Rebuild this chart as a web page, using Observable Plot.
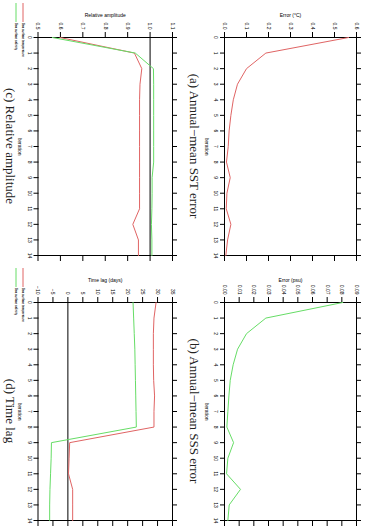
<!DOCTYPE html>
<html>
<head>
<meta charset="utf-8">
<script src="https://cdn.jsdelivr.net/npm/d3@7"></script>
<script src="https://cdn.jsdelivr.net/npm/@observablehq/plot@0.6"></script>
<style>
  html, body { margin: 0; padding: 0; background: #fff; overflow: hidden; }
  #fig { position: absolute; left: 0; top: 0; width: 530px; height: 368px; background: #fff;
         transform-origin: 0 0; transform: translate(368px, 0) rotate(90deg); }
  .panel { position: absolute; }
  .title { position: absolute; font-family: "Liberation Serif", "Times New Roman", serif; font-size: 13px;
           white-space: nowrap; transform: translate(-50%, -50%); color: #222; }
  .legend { position: absolute; font-family: "Liberation Sans", Arial, sans-serif; }
</style>
</head>
<body>
<div id="fig"></div>
<script>
// ---- data ----
const iterations = [0,1,2,3,4,5,6,7,8,9,10,11,12,13,14];
const sstError = [0.564,0.188,0.100,0.059,0.040,0.029,0.021,0.017,0.009,0.026,0.011,0.008,0.029,0.014,0.006];
const sssError = [0.0806,0.0282,0.0150,0.0089,0.0059,0.0039,0.0030,0.0023,0.0016,0.0062,0.0023,0.0014,0.0109,0.0032,0.0023];
const ampSST = [0.598,0.930,0.963,0.955,0.953,0.953,0.953,0.953,0.953,0.953,0.953,0.953,0.923,0.948,0.948];
const ampSSS = [0.564,0.934,1.015,1.016,1.016,1.016,1.016,1.016,1.016,1.009,1.009,1.008,1.006,1.008,1.008];
const lagSST = [29.5,28.8,28.6,28.6,28.6,28.7,29.0,28.8,28.8,0.6,0.4,0.2,1.6,1.6,1.6];
const lagSSS = [21.8,22.0,22.2,22.4,22.5,22.6,22.7,22.8,22.9,-5.5,-5.6,-5.8,-6.0,-6.1,-6.1];
const iterTicks = iterations;
const sstErrTicks = [0,0.1,0.2,0.3,0.4,0.5,0.6];
const sssErrTicks = [0,0.01,0.02,0.03,0.04,0.05,0.06,0.07,0.08,0.09];
const ampTicks = [0.5,0.6,0.7,0.8,0.9,1.0,1.1];
const lagTicks = [-10,-5,0,5,10,15,20,25,30,35];
const seriesNames = ["Sea surface temperature", "Sea surface salinity"];
const titles = ["(a) Annual\u2212mean SST error", "(b) Annual\u2212mean SSS error", "(c) Relative amplitude", "(d) Time lag"];

const RED = "#e06464", GREEN = "#66dd66";

function panel({series, domain, ticks, fmt, label, rule, mb}) {
  const marks = [
    Plot.frame({stroke: "black", strokeWidth: 1}),
  ];
  if (rule !== undefined) marks.push(Plot.ruleY([rule], {stroke: "black", strokeWidth: 1}));
  for (const s of series) {
    marks.push(Plot.line(iterations.map((it, i) => ({it, v: s.values[i]})), {x: "it", y: "v", stroke: s.color, strokeWidth: 1}));
  }
  marks.push(
    Plot.axisX({ticks: iterTicks, tickSize: 5, tickPadding: 1.5, tickFormat: d => String(d), label: "Iteration", labelAnchor: "center", labelOffset: 20, labelArrow: false}),
    Plot.axisX({anchor: "top", ticks: iterTicks, tickSize: 5, tickFormat: () => "", label: null}),
    Plot.axisY({ticks, tickSize: 5, tickPadding: 3, tickFormat: fmt, label, labelAnchor: "center", labelOffset: 24, labelArrow: false}),
    Plot.axisY({anchor: "right", ticks, tickSize: 5, tickFormat: () => "", label: null})
  );
  return Plot.plot({
    width: 265, height: 184,
    marginLeft: 37, marginRight: 10, marginTop: 11, marginBottom: mb,
    style: {fontFamily: "Liberation Sans, Arial, sans-serif", fontSize: "5px", background: "white", overflow: "visible"},
    x: {domain: [0, 14]},
    y: {domain},
    marks
  });
}

const fig = document.getElementById("fig");
function place(node, left, top) {
  const d = document.createElement("div");
  d.className = "panel"; d.style.left = left + "px"; d.style.top = top + "px";
  d.appendChild(node); fig.appendChild(d);
}
function addTitle(text, cx, cy) {
  const t = document.createElement("div");
  t.className = "title"; t.textContent = text;
  t.style.left = cx + "px"; t.style.top = cy + "px";
  fig.appendChild(t);
}
function addLegend(left, top) {
  const ns = "http://www.w3.org/2000/svg";
  const svg = document.createElementNS(ns, "svg");
  svg.setAttribute("width", 70); svg.setAttribute("height", 14);
  svg.setAttribute("class", "legend");
  svg.style.left = left + "px"; svg.style.top = top + "px";
  [[RED, seriesNames[0]], [GREEN, seriesNames[1]]].forEach(([c, name], i) => {
    const y = 3 + i * 7;
    const l = document.createElementNS(ns, "line");
    l.setAttribute("x1", 0); l.setAttribute("x2", 19); l.setAttribute("y1", y); l.setAttribute("y2", y);
    l.setAttribute("stroke", c); l.setAttribute("stroke-width", 1);
    svg.appendChild(l);
    const t = document.createElementNS(ns, "text");
    t.setAttribute("x", 20); t.setAttribute("y", y); t.setAttribute("dy", "0.35em");
    t.setAttribute("font-size", "2.9px"); t.setAttribute("font-weight", "bold");
    t.setAttribute("font-family", "Liberation Sans, Arial, sans-serif");
    t.textContent = name;
    svg.appendChild(t);
  });
  fig.appendChild(svg);
}

place(panel({series: [{values: sstError, color: RED}], domain: [0, 0.6], ticks: sstErrTicks, fmt: d3.format(".1f"), label: "Error (\u00b0C)", mb: 41}), 0, 0);
place(panel({series: [{values: sssError, color: GREEN}], domain: [0, 0.09], ticks: sssErrTicks, fmt: d3.format(".2f"), label: "Error (psu)", mb: 41}), 265, 0);
place(panel({series: [{values: ampSST, color: RED}, {values: ampSSS, color: GREEN}], domain: [0.5, 1.1], ticks: ampTicks, fmt: d3.format(".1f"), label: "Relative amplitude", rule: 1, mb: 38.5}), 0, 184);
place(panel({series: [{values: lagSST, color: RED}, {values: lagSSS, color: GREEN}], domain: [-10, 35], ticks: lagTicks, fmt: d => d3.format("d")(d).replace("-", "\u2212"), label: "Time lag (days)", rule: 0, mb: 38.5}), 265, 184);

addTitle(titles[0], 146, 174);
addTitle(titles[1], 411, 174);
addTitle(titles[2], 146, 358);
addTitle(titles[3], 411, 358);
addLegend(3, 342);
addLegend(268, 342);
</script>
</body>
</html>
